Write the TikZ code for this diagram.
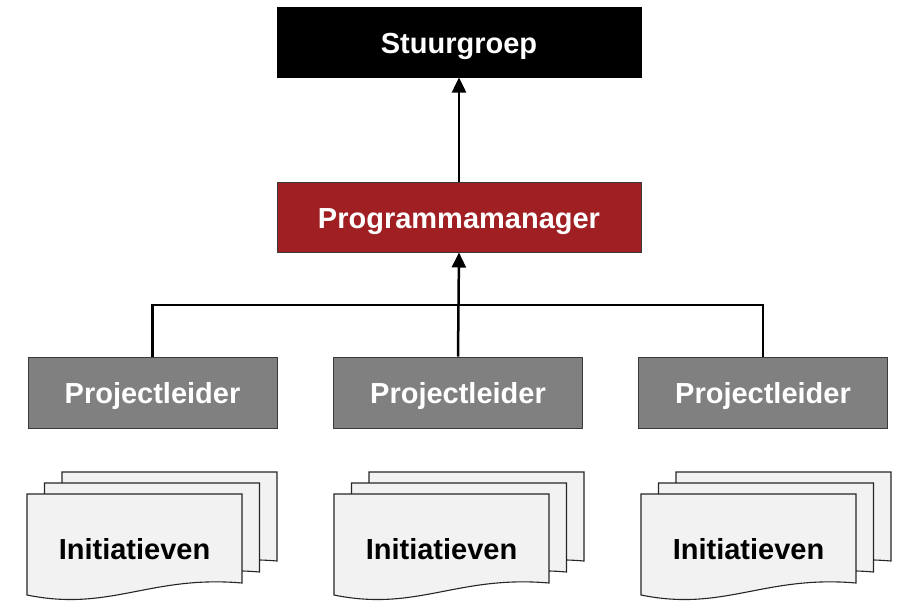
\documentclass[tikz,border=0pt]{standalone}
\usepackage{fontspec}
\setmainfont{Liberation Sans}
\usetikzlibrary{arrows.meta}
\definecolor{pmred}{HTML}{A01F22}
\definecolor{plgray}{HTML}{808080}
\definecolor{docfill}{HTML}{F2F2F2}
\definecolor{edge}{HTML}{3A3A3A}
\tikzset{
  box/.style={draw=edge, line width=1pt, minimum width=249pt, minimum height=71pt, inner sep=0pt,
    text height=24pt, text depth=1.5pt,
    text=white, font=\fontsize{29}{34}\selectfont\bfseries},
  doc/.style={draw=black!85, line width=1.1pt, fill=docfill},
  doctext/.style={font=\fontsize{29}{34}\selectfont\bfseries, text=black, inner sep=0pt},
  conn/.style={line width=2.5pt, draw=black},
  arr/.style={conn, -{Triangle[width=14pt,length=15pt]}}
}
\newcommand\docshape[2]{%
  \draw[doc, shift={(#1,#2)}] (0,0) -- (215,0) -- (215,89)
    .. controls (123,81) and (83,118) .. (0,101) -- cycle;}
\newcommand\docstack[1]{%
  \docshape{#1+35}{472}
  \docshape{#1+17.5}{483}
  \docshape{#1}{494}}
\begin{document}
\begin{tikzpicture}[x=1pt,y=-1pt]
\useasboundingbox (0,0) rectangle (897,603);
\node[box, fill=black, draw=black, minimum width=364pt, minimum height=70pt] (sg) at (459,42) {Stuurgroep};
\node[box, fill=pmred, minimum width=364pt, minimum height=70pt] (pm) at (459,217) {Programmamanager};
\node[box, fill=plgray] (pl1) at (152.5,392.5) {Projectleider};
\node[box, fill=plgray] (pl2) at (458,392.5) {Projectleider};
\node[box, fill=plgray] (pl3) at (763,392.5) {Projectleider};
\coordinate (bus) at (458,305);
\draw[arr] (pm.north) -- (sg.south);
\draw[arr] (pl2.north) -- (pm.south);
\draw[conn] (pl1.north) |- (bus) -| (pl3.north);
\docstack{27}
\docstack{334}
\docstack{641}
\node[doctext] (in1) at (134.5,549) {Initiatieven};
\node[doctext] (in2) at (441.5,549) {Initiatieven};
\node[doctext] (in3) at (748.5,549) {Initiatieven};
\end{tikzpicture}
\end{document}
